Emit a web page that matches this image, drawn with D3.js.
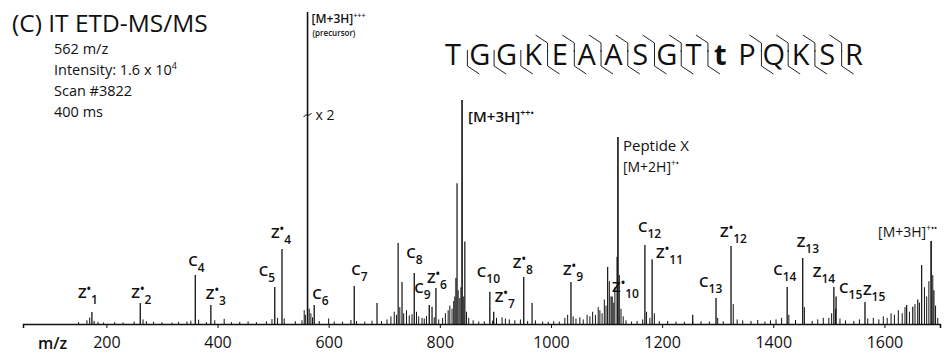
<!DOCTYPE html>
<html>
<head>
<meta charset="utf-8">
<script src="https://cdn.jsdelivr.net/npm/d3@7"></script>
<style>
body { margin: 0; background: #fff; }
text { font-family: "Open Sans", sans-serif; fill: #111; }
.tick text { font-size: 16px; }
.ion { font-size: 15px; font-weight: 600; }
</style>
</head>
<body>
<svg id="svg"></svg>
<script>
var width = 947, height = 354;

// labelled fragment ions: name, m/z, relative intensity
var ionNames = ["z1","z2","c4","z3","c5","z4","c6","c7","c8","c9","z6","c10","z7","z8","z9","z10","c12","z11","c13","z12","c14","z13","z14","c15","z15"];
var ionMz    = [174, 261, 360, 388, 503, 516, 574, 646, 754, 781, 793, 890, 897, 951, 1036, 1110, 1169, 1182, 1297, 1324, 1425, 1453, 1509, 1513, 1565];
var ionInt   = [3.9, 6.9, 16.0, 6.2, 12.1, 24.5, 6.2, 12.4, 16.7, 6.2, 11.8, 10.5, 4.0, 15.4, 13.7, 9.0, 25.8, 21.2, 8.5, 25.5, 12.1, 21.6, 12.1, 9.0, 7.2];

// named peaks
var namedMz  = [562, 840, 1120.5, 1684];
var namedInt = [102, 73.2, 61.1, 27.1];

// other unlabelled peaks
var otherMz  = [687, 725, 732, 786, 829, 831, 845, 966, 1102, 1119, 1255, 1640, 1651, 1660, 1667, 1689];
var otherInt = [6.9, 26.5, 13.7, 5.6, 15, 46, 27, 6.9, 18.6, 22, 3, 6.2, 5.6, 8, 19.3, 11];

// small background peaks
var noiseMz = [150,165,170,178,185,195,215,230,250,266,272,285,300,318,330,345,352,366,380,395,412,425,440,455,470,488,498,508,520,540,552,556,558,565,568,571,583,600,610,625,640,650,665,678,695,
  705,712,718,722,728,735,740,745,750,758,762,768,772,776,790,798,805,810,815,818,822,825,827,833,836,838,843,848,852,860,870,
  880,895,902,912,918,925,935,945,958,972,985,995,1005,1015,1025,1030,1040,1045,1052,1058,1065,1070,
  1075,1080,1085,1088,1092,1096,1099,1105,1108,1113,1115,1123,1126,1130,1135,
  1145,1155,1165,1172,1178,1186,1195,1210,1225,1240,1255,1270,1285,1300,1310,1328,1335,1345,1360,1372,1385,1395,1405,1415,1428,1440,1456,1470,1480,1490,1500,1505,1512,1520,1530,1545,1555,1570,1580,
  1590,1598,1605,1612,1618,1625,1632,1637,1645,1655,1663,1672,1676,1680,1687,1692,1696];
var noiseInt = [0.6,1.2,2.1,1.0,0.7,0.5,0.6,0.5,0.8,1.5,0.9,0.7,0.6,0.5,0.7,0.8,1.1,1.4,0.6,1.2,1.7,0.6,0.7,0.8,0.6,0.9,1.6,2.0,1.8,0.9,1.2,4.5,3.0,5.0,3.5,2.2,1.0,1.8,0.8,0.7,1.3,1.0,0.8,1.1,1.0,
  1.5,2.5,4.0,3.0,5.5,3.5,4.5,2.8,3.2,4.0,2.5,2.0,1.8,2.6,2.2,1.5,2.0,3.5,4.5,6.0,5.0,7.5,9.0,11.0,8.5,12.0,9.0,4.0,2.0,1.2,0.8,
  0.9,1.1,2.0,2.2,1.8,1.5,1.2,1.5,1.0,1.2,0.8,0.7,0.9,0.8,2.0,3.0,2.5,1.8,2.2,1.5,3.0,2.5,
  4.0,3.0,5.5,4.5,3.5,8.0,6.0,14.0,9.0,7.0,12.0,16.0,5.0,2.5,1.2,
  0.8,1.0,1.5,4.0,2.0,3.5,0.9,1.0,0.8,0.7,1.0,0.9,0.8,2.0,0.9,6.5,1.5,1.2,1.0,1.3,0.8,1.2,1.5,2.0,3.0,1.3,5.5,1.0,1.5,2.0,2.0,3.5,5.0,1.8,1.2,1.0,1.5,1.8,2.0,
  1.5,2.5,2.0,3.5,3.0,4.5,3.5,5.5,4.0,6.5,7.0,12.0,9.0,14.0,16.0,6.0,2.0];

var tickValues = [200, 400, 600, 800, 1000, 1200, 1400, 1600];
var sequence = ["T","G","G","K","E","A","A","S","G","T","t","P","Q","K","S","R"];
var cIons = [4,5,6,7,8,9,10,12,13,14,15];
var zIons = [1,2,3,4,6,7,8,9,10,11,12,13,14,15];

// layout: label offsets [dx, dy] from each labelled peak top
var ionLabelOffsets = [[-14,-14],[-9,-5],[-7,-9],[-5,-6],[-16,-11],[-11,-11],[-2,-6],[-3,-11],[-8,-15],[-15,-12],[-9,-5],[-13,-15],[1,-10],[-11,-9],[-8,-7],[0,-4],[-7,-13],[4,-1],[-17,-11],[-11,-9],[-14,-12],[-6,-11],[-21,-10],[3,-3],[-2,-7]];

var svg = d3.select("#svg")
	.attr("width", width)
	.attr("height", height);

var x = d3.scaleLinear().domain([50, 1700]).range([23, 940]);
var y = d3.scaleLinear().domain([0, 100]).range([324, 18]);

function drawPeaks(mz, inten, w)
{
	svg.append("g").selectAll("line")
		.data(mz)
		.enter()
		.append("line")
		.attr("x1", function(d) { return x(d); })
		.attr("x2", function(d) { return x(d); })
		.attr("y1", y(0))
		.attr("y2", function(d, i) { return y(inten[i]); })
		.style("stroke", "#111")
		.style("stroke-width", w);
}

drawPeaks(noiseMz, noiseInt, 1);
drawPeaks(otherMz, otherInt, 1.2);
drawPeaks(ionMz, ionInt, 1.3);
drawPeaks(namedMz, namedInt, 1.6);

// axis
var xAxis = d3.axisBottom(x)
	.tickValues(tickValues)
	.tickFormat(d3.format("d"))
	.tickSize(4)
	.tickSizeOuter(4)
	.tickPadding(9);
var ax = svg.append("g")
	.attr("transform", "translate(0," + y(0) + ")")
	.call(xAxis);
ax.select(".domain").style("stroke", "#111").style("stroke-width", 1.5);
ax.selectAll(".tick line").style("stroke", "#111");
ax.selectAll(".tick text").style("fill", "#111");

svg.append("text")
	.attr("x", 38)
	.attr("y", 349)
	.style("font-size", "16px")
	.style("font-weight", 600)
	.text("m/z");

// ion labels
ionNames.forEach(function(name, i)
{
	var kind = name.charAt(0), num = name.slice(1);
	var t = svg.append("text")
		.attr("class", "ion")
		.attr("x", x(ionMz[i]) + ionLabelOffsets[i][0])
		.attr("y", y(ionInt[i]) + ionLabelOffsets[i][1]);
	t.append("tspan").text(kind.toUpperCase());
	if (kind == "z" && +num <= 12) {
		t.append("tspan").attr("dy", -5).style("font-size", "12px").text("\u2022");
		t.append("tspan").attr("dy", 11).style("font-size", "12px").text(num);
	} else {
		t.append("tspan").attr("dy", 6).style("font-size", "12px").text(num);
	}
});

// named peak labels
function supLabel(px, py, main, sup, size)
{
	var t = svg.append("text")
		.attr("x", px)
		.attr("y", py)
		.style("font-size", size + "px");
	t.append("tspan").text(main);
	t.append("tspan").attr("dy", -size * 0.4).style("font-size", (size * 0.6) + "px").text(sup);
	return t;
}
supLabel(x(namedMz[0]) + 4, y(namedInt[0]) + 11, "[M+3H]", "+++", 12).style("font-weight", 600);
svg.append("text")
	.attr("x", x(namedMz[0]) + 5)
	.attr("y", y(namedInt[0]) + 24)
	.style("font-size", "8px")
	.style("font-weight", 600)
	.text("(precursor)");
supLabel(x(namedMz[1]) + 6, y(namedInt[1]) + 22, "[M+3H]", "++\u2022", 15).style("font-weight", 600);
svg.append("text")
	.attr("x", x(namedMz[2]) + 5)
	.attr("y", y(namedInt[2]) + 14)
	.style("font-size", "15px")
	.text("Peptide X");
supLabel(x(namedMz[2]) + 5, y(namedInt[2]) + 35, "[M+2H]", "+\u2022", 14);
supLabel(x(namedMz[3]) - 53, y(namedInt[3]) - 4, "[M+3H]", "+\u2022\u2022", 14);

// x 2 break on the precursor peak
var bx = x(namedMz[0]);
svg.append("path")
	.attr("d", "M" + (bx - 4) + ",117 q2,-3 4,-2 q2,1 4,-2")
	.style("fill", "none")
	.style("stroke", "#111")
	.style("stroke-width", 1);
svg.append("text")
	.attr("x", bx + 8)
	.attr("y", 120)
	.style("font-size", "14px")
	.text("x 2");

// title block
svg.append("text")
	.attr("x", 12)
	.attr("y", 32)
	.style("font-size", "24.5px")
	.text("(C) IT ETD-MS/MS");
var info = svg.append("g").style("font-size", "14.5px");
info.append("text").attr("x", 54).attr("y", 54).text("562 m/z");
var it = info.append("text").attr("x", 54).attr("y", 75).text("Intensity: 1.6 x 10");
it.append("tspan").attr("dy", -6).style("font-size", "9px").text("4");
info.append("text").attr("x", 54).attr("y", 96).text("Scan #3822");
info.append("text").attr("x", 54).attr("y", 117).text("400 ms");

// sequence with cleavage marks
var sx = d3.scalePoint().domain(d3.range(sequence.length)).range([453, 854]);
svg.append("g").selectAll("text")
	.data(sequence)
	.enter()
	.append("text")
	.attr("x", function(d, i) { return sx(i); })
	.attr("y", 65)
	.attr("text-anchor", "middle")
	.style("font-size", "29px")
	.style("font-weight", function(d) { return d == "t" ? 700 : 400; })
	.text(function(d) { return d; });

var marks = svg.append("g").style("fill", "none").style("stroke", "#222").style("stroke-width", 1);
d3.range(1, sequence.length).forEach(function(i)
{
	var vx = (sx(i - 1) + sx(i)) / 2 + 1;
	if (cIons.indexOf(i) >= 0)
		marks.append("path").attr("d", "M" + (vx - 12) + ",35 L" + vx + ",43 L" + vx + ",52");
	if (zIons.indexOf(sequence.length - i) >= 0)
		marks.append("path").attr("d", "M" + vx + ",50 L" + vx + ",66 L" + (vx + 12) + ",74");
});
</script>
</body>
</html>
